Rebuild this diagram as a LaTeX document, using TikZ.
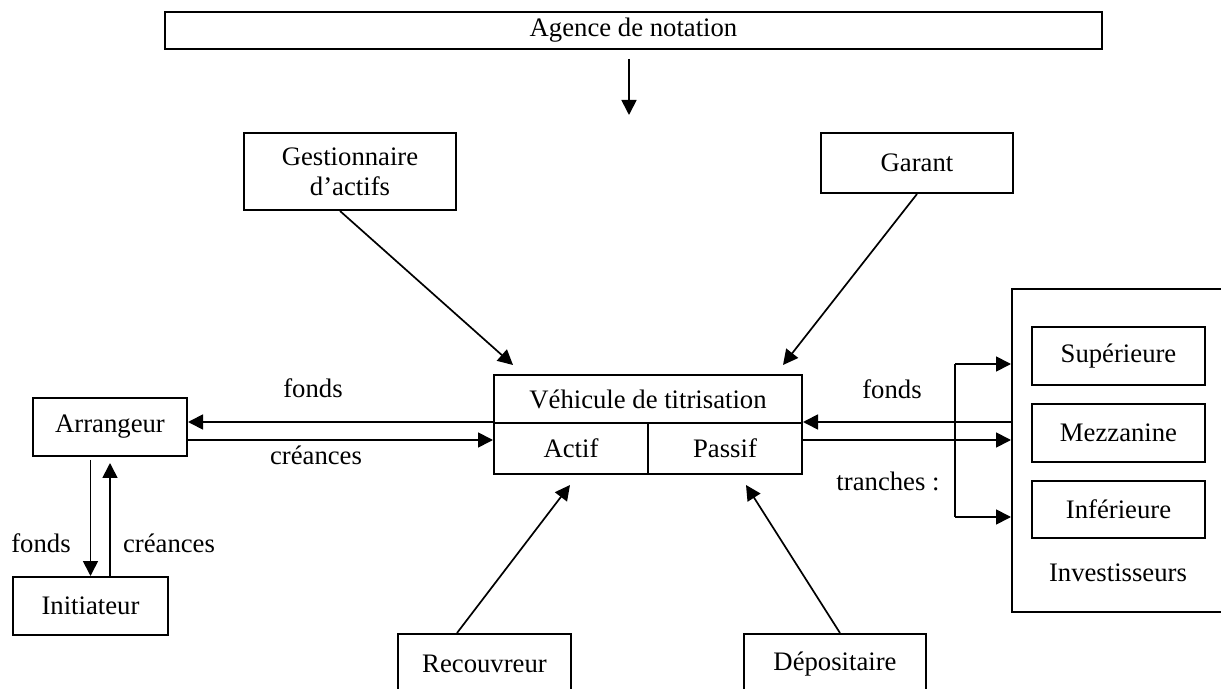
\documentclass[tikz,border=0pt]{standalone}
\usepackage{fontspec}
\setmainfont{Liberation Serif}
\usetikzlibrary{arrows.meta,calc}
\begin{document}
\begin{tikzpicture}[x=0.5pt,y=-0.5pt,
  font=\fontsize{13.35}{15}\selectfont,
  box/.style={draw,line width=1pt,inner sep=0pt,align=center},
  arr/.style={line width=0.85pt,-{Triangle[length=7.5pt,width=7.5pt]}},
  ln/.style={line width=0.85pt},
  lbl/.style={inner sep=0pt}]
\useasboundingbox (0,0) rectangle (1221,689);
\clip (0,0) rectangle (1221,689);

% boxes
\node[box,minimum width=468.5pt,minimum height=18.5pt] (ag) at (633.5,30.5) {Agence de notation};
\node[box,minimum width=106pt,minimum height=38.5pt] (gest) at (350,171.5) {Gestionnaire\\d'actifs};
\node[box,minimum width=96pt,minimum height=30pt] (gar) at (917,163) {Garant};
\node[box,minimum width=154pt,minimum height=24pt] (veh) at (648,399) {Véhicule de titrisation};
\node[box,minimum width=77pt,minimum height=25.5pt] (actif) at (571,448.5) {Actif};
\node[box,minimum width=77pt,minimum height=25.5pt] (passif) at (725,448.5) {Passif};
\node[box,minimum width=77pt,minimum height=29pt] (arr) at (110,427) {Arrangeur};
\node[box,minimum width=77.5pt,minimum height=29pt] (init) at (90.5,606) {Initiateur};
\node[box,minimum width=86.5pt,minimum height=30pt] (rec) at (484.5,664) {Recouvreur};
\node[box,minimum width=91pt,minimum height=30pt] (dep) at (835,664) {Dépositaire};
\node[box,minimum width=114pt,minimum height=161.5pt] (inv) at (1126,450.5) {};
\node[box,minimum width=86.5pt,minimum height=29pt] (sup) at (1118.5,356) {Supérieure};
\node[box,minimum width=86.5pt,minimum height=29pt] (mez) at (1118.5,433) {Mezzanine};
\node[box,minimum width=86.5pt,minimum height=28.5pt] (inf) at (1118.5,509.5) {Inférieure};
\node[lbl] (invl) at (1118,573) {Investisseurs};

% labels
\node[lbl] (l1) at (313,388) {fonds};
\node[lbl] (l2) at (316,455) {créances};
\node[lbl] (l3) at (41,543) {fonds};
\node[lbl] (l4) at (169,543) {créances};
\node[lbl] (l5) at (892,389) {fonds};
\node[lbl] (l6) at (888,481) {tranches :};

% coordinates
\coordinate (rt) at (629,115);
\coordinate (t1) at (513,365);
\coordinate (t2) at (783,365);
\coordinate (t3) at (570,485);
\coordinate (t4) at (746,485);
\coordinate (bt) at (955,364);
\coordinate (bb) at (955,517);

% connectors
\draw[arr] ($(ag.south -| rt)+(0,9)$) -- (rt);
\draw[arr] ($(gest.south)+(-10,0)$) -- (t1);
\draw[arr] (gar.south) -- (t2);
\draw[arr] (actif.north west) -- (actif.north west -| arr.east);
\draw[arr] ($(actif.north west -| arr.east)+(0,18)$) -- ($(actif.north west)+(0,18)$);
\draw[arr] (passif.north east -| inv.west) -- (passif.north east);
\draw[arr] ($(passif.north east)+(0,18)$) -- ($(passif.north east -| inv.west)+(0,18)$);
\draw[ln] (bt) -- (bb);
\draw[arr] (bt) -- (bt -| inv.west);
\draw[arr] (bb) -- (bb -| inv.west);
\draw[arr] ($(arr.south -| init.north)+(0,3)$) -- (init.north);
\draw[arr] (init.north -| arr.south) -- ($(arr.south)+(0,6)$);
\draw[arr] ($(rec.north)+(-27.5,0)$) -- (t3);
\draw[arr] ($(dep.north)+(5,0)$) -- (t4);
\end{tikzpicture}
\end{document}
